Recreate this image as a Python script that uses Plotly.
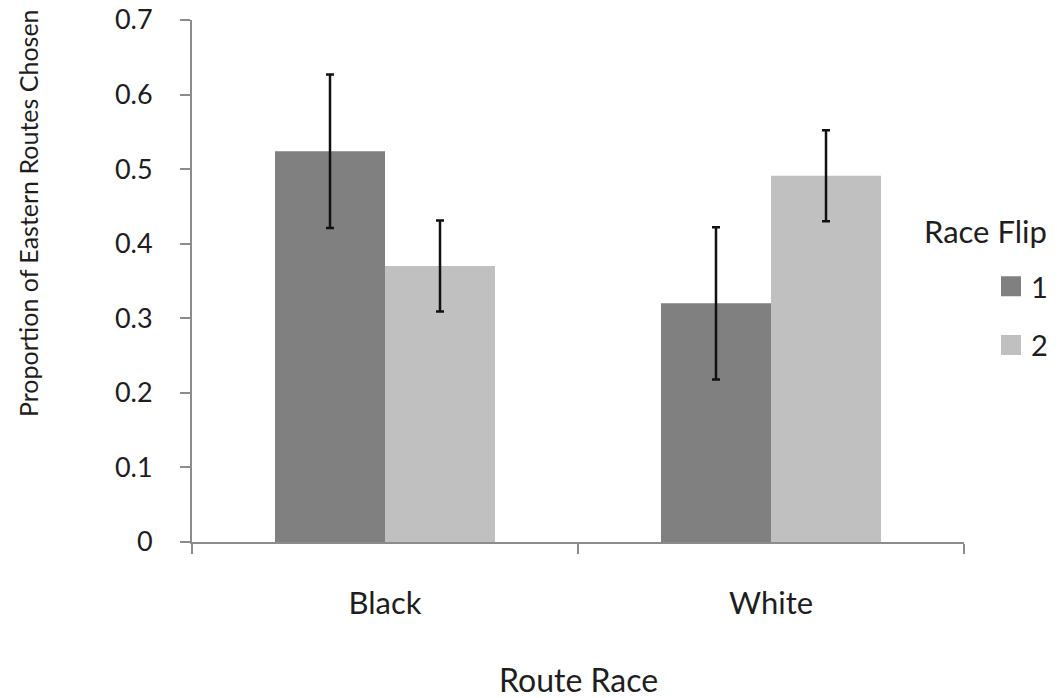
import plotly.graph_objects as go

categories = ["Black", "White"]
series_names = ["1", "2"]
values_1 = [0.524, 0.320]
values_2 = [0.370, 0.491]
errors_1 = [0.103, 0.102]
errors_2 = [0.061, 0.061]
y_ticks = [0, 0.1, 0.2, 0.3, 0.4, 0.5, 0.6, 0.7]
colors = ["#808080", "#c0c0c0"]

FONT = "Lato, Open Sans, sans-serif"
TXT = "#1e1e1e"
W, H = 1059, 698
L, R, T, B = 192, 95, 20, 156
PW, PH = W - L - R, H - T - B


def px(xp):
    return (xp - L) / PW


def py(yp):
    return (H - B - yp) / PH


fig = go.Figure()
for name, vals, errs, color in [
    (series_names[0], values_1, errors_1, colors[0]),
    (series_names[1], values_2, errors_2, colors[1]),
]:
    fig.add_trace(go.Bar(
        x=categories, y=vals, name=name, showlegend=False,
        marker=dict(color=color, line=dict(width=0)),
        error_y=dict(type="data", array=errs, visible=True,
                     color="#111111", thickness=2.5, width=4),
    ))

# legend entries (square swatches)
for name, color in zip(series_names, colors):
    fig.add_trace(go.Scatter(
        x=[None], y=[None], name=name, mode="markers",
        legendgroup=name, showlegend=True,
        marker=dict(symbol="square", size=16, color=color,
                    line=dict(color=color, width=4)),
    ))

fig.update_layout(
    width=W, height=H,
    margin=dict(l=L, r=R, t=T, b=B, autoexpand=False),
    paper_bgcolor="white", plot_bgcolor="white",
    barmode="group", bargap=0.43, bargroupgap=0,
    font=dict(family=FONT, size=27, color=TXT),
    showlegend=True,
    legend=dict(x=px(991), y=py(261),
                xanchor="left", yanchor="top",
                font=dict(size=29, color=TXT),
                bgcolor="rgba(0,0,0,0)", itemwidth=30,
                traceorder="grouped", tracegroupgap=18),
    xaxis=dict(
        showline=True, linecolor="#8c8c8c", linewidth=2,
        ticks="outside", tickson="boundaries", ticklen=10,
        tickcolor="#8c8c8c", tickwidth=2,
        ticklabelstandoff=33,
        showgrid=False, zeroline=False,
        tickfont=dict(size=31, color=TXT),
    ),
    yaxis=dict(
        range=[0, 0.7], tickvals=y_ticks,
        showline=True, linecolor="#8c8c8c", linewidth=2,
        ticks="outside", ticklen=10, tickcolor="#8c8c8c", tickwidth=2,
        ticklabelstandoff=22,
        showgrid=False, zeroline=False,
        tickfont=dict(size=27, color=TXT),
    ),
    annotations=[
        dict(text="Proportion of Eastern Routes Chosen", textangle=-90,
             xref="paper", yref="paper", x=px(28), y=py(213),
             xanchor="center", yanchor="middle", showarrow=False,
             font=dict(size=25, color=TXT)),
        dict(text="Route Race", xref="paper", yref="paper",
             x=px(578), y=py(679),
             xanchor="center", yanchor="middle", showarrow=False,
             font=dict(size=32, color=TXT)),
        dict(text="Race Flip", xref="paper", yref="paper",
             x=px(922), y=py(231),
             xanchor="left", yanchor="middle", showarrow=False,
             font=dict(size=31, color=TXT)),
    ],
)

fig.write_html("out.html")
